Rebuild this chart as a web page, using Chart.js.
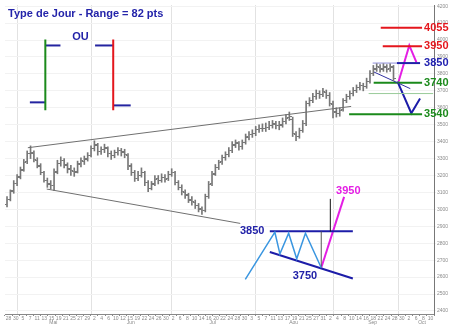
<!DOCTYPE html>
<html>
<head>
<meta charset="utf-8">
<script src="https://cdn.jsdelivr.net/npm/chart.js@4.4.1/dist/chart.umd.min.js"></script>
<style>
  html, body { margin: 0; padding: 0; background: #fff; }
  #wrap { width: 450px; height: 326px; }
</style>
</head>
<body>
<div id="wrap"><canvas id="chart" width="450" height="326"></canvas></div>
<script>
// daily bars, one per trading day (index 0 = end of April)
const opens = [3030,3060,3110,3150,3195,3235,3285,3330,3330,3290,3255,3215,3170,3150,3140,3225,3270,3290,3260,3240,
  3225,3225,3270,3285,3300,3320,3360,3375,3340,3355,3360,3330,3320,3335,3345,3340,3320,3255,3215,3185,
  3200,3215,3160,3125,3150,3180,3170,3190,3180,3205,3215,3160,3130,3100,3080,3055,3040,3020,3000,2995,
  3075,3150,3210,3250,3280,3305,3325,3350,3380,3390,3370,3395,3425,3440,3450,3470,3480,3475,3485,3495,
  3505,3495,3500,3520,3540,3530,3445,3430,3465,3505,3625,3645,3665,3685,3680,3690,3670,3620,3575,3565,
  3590,3645,3665,3685,3700,3720,3730,3725,3755,3800,3830,3840,3830,3840,3830,3840];
const highs = [3075,3115,3170,3205,3250,3295,3345,3375,3345,3305,3270,3225,3185,3170,3240,3290,3310,3300,3275,3260,
  3245,3285,3305,3315,3335,3375,3405,3390,3370,3385,3370,3345,3350,3365,3360,3355,3330,3270,3230,3225,
  3245,3225,3170,3165,3200,3200,3210,3205,3225,3240,3225,3170,3145,3115,3095,3075,3055,3035,3015,3090,
  3165,3225,3265,3290,3320,3340,3365,3400,3410,3400,3410,3445,3460,3470,3490,3500,3505,3510,3520,3525,
  3520,3520,3540,3560,3575,3545,3460,3480,3525,3640,3660,3685,3705,3700,3715,3705,3690,3640,3600,3600,
  3655,3680,3700,3720,3735,3750,3745,3775,3820,3850,3860,3855,3860,3855,3860,3850];
const lows = [3015,3050,3095,3140,3180,3225,3270,3300,3280,3245,3205,3160,3130,3120,3110,3210,3255,3245,3215,3200,
  3195,3215,3250,3265,3285,3310,3345,3320,3325,3335,3310,3295,3305,3320,3315,3305,3235,3200,3165,3170,
  3190,3140,3105,3115,3140,3150,3160,3160,3170,3195,3145,3115,3085,3065,3040,3025,3005,2985,2970,2985,
  3065,3140,3200,3235,3265,3290,3310,3335,3365,3350,3355,3385,3410,3425,3435,3455,3460,3460,3470,3480,
  3475,3470,3485,3505,3525,3430,3405,3420,3455,3495,3610,3630,3650,3655,3665,3655,3610,3540,3545,3550,
  3580,3630,3650,3670,3690,3705,3700,3715,3745,3790,3815,3810,3815,3810,3815,3760];
const closes = [3056,3103,3155,3190,3231,3277,3329,3335,3295,3260,3219,3173,3149,3143,3219,3271,3289,3266,3236,3231,
  3219,3266,3289,3295,3318,3358,3382,3341,3353,3364,3329,3318,3335,3347,3335,3324,3260,3219,3184,3202,
  3219,3161,3126,3149,3178,3173,3190,3178,3207,3219,3161,3132,3103,3085,3056,3045,3021,3004,2992,3074,
  3149,3207,3248,3277,3306,3324,3347,3382,3393,3370,3393,3428,3440,3451,3469,3480,3480,3486,3498,3504,
  3498,3498,3521,3539,3550,3451,3428,3463,3510,3626,3643,3666,3684,3678,3695,3672,3626,3579,3568,3585,
  3643,3666,3684,3701,3719,3730,3724,3754,3800,3829,3841,3829,3841,3829,3841,3770];

// axis labels
const dayLabels = ['28','30','5','7','11','13','15','19','21','25','27','29','2','4','6','10','12','15','19','22',
  '24','26','30','2','6','8','10','14','16','20','22','24','28','30','3','5','7','11','13','17',
  '19','21','25','27','31','2','4','8','10','14','16','18','22','24','28','30','2','6','8','10'];
const monthNames = ['Mai', 'Jun', 'Jul', 'Aou', 'Sep', 'Oct'];
const monthMid = [13.8, 36.8, 61.2, 85.3, 108.8, 123.5];
const monthStart = [3.2, 25, 48.8, 73.8, 97, 116.5];

// trend lines drawn on the price chart
const upperTrend = [[6.2, 3364], [102.4, 3608]];
const lowerTrend = [[11.8, 3120], [69.4, 2917]];
const pennantTop = [[108.8, 3864], [116, 3864]];
const pennantLow = [[109.1, 3812], [120, 3713]];

// target levels on the right
const level4055 = [[111.2, 4073], [123.5, 4073]];
const level3950 = [[111.8, 3963], [123.5, 3963]];
const level3850 = [[116, 3864], [122.9, 3864]];
const level3740 = [[109.1, 3748], [123.5, 3748]];
const level3690 = [[107.6, 3684], [126.8, 3684]];
const level3540 = [[101.8, 3562], [123.5, 3562]];
const upPath = [[116.5, 3754], [119.7, 3968], [121.8, 3870]];
const downPath = [[116.2, 3754], [120.3, 3568], [122.9, 3655]];

// top-left sketch: bullish / bearish day
const greenBar = [[11.4, 4003], [11.4, 3585]];
const greenOpen = [[6.8, 3632], [11.4, 3632]];
const greenClose = [[11.4, 3968], [15.9, 3968]];
const redBar = [[31.6, 4003], [31.6, 3585]];
const redOpen = [[26.2, 3968], [31.6, 3968]];
const redClose = [[31.6, 3614], [36.8, 3614]];

// bottom sketch: triangle breakout
const sketchTop = [[78.2, 2870], [102.9, 2870]];
const sketchLow = [[78.2, 2748], [102.9, 2592]];
const zigzag = [[70.9, 2586], [79.7, 2865], [81.2, 2737], [83.8, 2859], [86.2, 2708], [88.8, 2859], [93.5, 2655]];
const sketchHeight = [[93.5, 2655], [93.5, 2870]];
const sketchTarget = [[96.2, 2870], [96.2, 3062]];
const sketchBreak = [[93.5, 2655], [100.3, 3074]];

const labels = [
  { text: '4055', x: 124.1, y: 4073, color: '#e4161c' },
  { text: '3950', x: 124.1, y: 3963, color: '#e4161c' },
  { text: '3850', x: 124.1, y: 3864, color: '#2222b0' },
  { text: '3740', x: 124.1, y: 3748, color: '#1b8a1b' },
  { text: '3540', x: 124.1, y: 3562, color: '#1b8a1b' },
  { text: 'OU', x: 19.4, y: 4021, color: '#2222a8' },
  { text: '3850', x: 69.3, y: 2870, color: '#2222a8' },
  { text: '3750', x: 85, y: 2609, color: '#2222a8' },
  { text: '3950', x: 97.9, y: 3109, color: '#e41ee4' }
];

function tickImg(side) {
  const c = document.createElement('canvas');
  c.width = 5; c.height = 1;
  const g = c.getContext('2d');
  g.fillStyle = '#777777';
  g.fillRect(side < 0 ? 0 : 3, 0, 2, 1);
  return c;
}

function line(pts, color, width) {
  return {
    type: 'line',
    data: pts.map(p => ({ x: p[0], y: p[1] })),
    borderColor: color,
    borderWidth: width,
    pointRadius: 0,
    tension: 0,
    fill: false,
    xAxisID: 'x',
    yAxisID: 'y'
  };
}

const textPlugin = {
  id: 'texts',
  afterDraw(chart) {
    const ctx = chart.ctx;
    const xs = chart.scales.x, ys = chart.scales.y;
    ctx.save();
    ctx.font = 'bold 11px "Liberation Sans", Arial, sans-serif';
    ctx.textBaseline = 'middle';
    ctx.fillStyle = '#2424aa';
    ctx.textAlign = 'left';
    ctx.fillText('Type de Jour - Range = 82 pts', chart.chartArea.left + 3, chart.chartArea.top + 9);
    labels.forEach(l => {
      ctx.fillStyle = l.color;
      ctx.fillText(l.text, xs.getPixelForValue(l.x), ys.getPixelForValue(l.y));
    });
    ctx.restore();
  }
};

const tiny = { size: 5, family: '"Liberation Sans", Arial, sans-serif' };
const xMin = -0.6, xMax = 127.05;

new Chart(document.getElementById('chart'), {
  type: 'bar',
  data: {
    datasets: [
      line(upperTrend, '#707070', 1),
      line(lowerTrend, '#707070', 1),
      {
        type: 'bar',
        data: closes.map((c, i) => ({ x: i, y: [lows[i], highs[i]] })),
        backgroundColor: '#777777',
        barThickness: 1,
        xAxisID: 'x',
        yAxisID: 'y'
      },
      {
        type: 'line',
        data: opens.map((v, i) => ({ x: i, y: v })),
        showLine: false,
        pointStyle: tickImg(-1),
        xAxisID: 'x',
        yAxisID: 'y'
      },
      {
        type: 'line',
        data: closes.map((v, i) => ({ x: i, y: v })),
        showLine: false,
        pointStyle: tickImg(1),
        xAxisID: 'x',
        yAxisID: 'y'
      },
      line(pennantTop, '#8c8cd8', 1),
      line(pennantLow, '#3030a0', 1),
      line(level4055, '#e4161c', 2),
      line(level3950, '#e4161c', 2),
      line(level3690, '#9acb9a', 1),
      line(level3740, '#1b8a1b', 2),
      line(level3540, '#1b8a1b', 2),
      line(level3850, '#2020a8', 2),
      line(downPath, '#1c1ca8', 2),
      line(upPath, '#e41ee4', 2),
      line(greenBar, '#1b8a1b', 2),
      line(greenOpen, '#2424a0', 2),
      line(greenClose, '#2424a0', 2),
      line(redBar, '#e4161c', 2),
      line(redOpen, '#2424a0', 2),
      line(redClose, '#2424a0', 2),
      line(zigzag, '#3a96e0', 1.5),
      line(sketchHeight, '#555555', 1),
      line(sketchTarget, '#111111', 1),
      line(sketchTop, '#1c1ca8', 2),
      line(sketchLow, '#1c1ca8', 2),
      line(sketchBreak, '#e41ee4', 2)
    ]
  },
  options: {
    responsive: false,
    animation: false,
    events: [],
    layout: { padding: 0 },
    plugins: { legend: { display: false }, tooltip: { enabled: false } },
    scales: {
      x: {
        type: 'linear',
        display: false,
        offset: false,
        min: xMin,
        max: xMax
      },
      xGrid: {
        type: 'linear',
        position: 'bottom',
        weight: 0,
        offset: false,
        min: xMin,
        max: xMax,
        afterBuildTicks: s => { s.ticks = monthStart.map(v => ({ value: v })); },
        afterFit: s => { s.height = 0; },
        ticks: { display: false },
        grid: { color: '#e2e2e2', drawTicks: false, offset: false },
        border: { display: false }
      },
      xDates: {
        type: 'category',
        labels: dayLabels,
        position: 'bottom',
        weight: 1,
        afterFit: s => { s.height = 6; },
        ticks: { font: tiny, color: '#8a8a8a', padding: 0, autoSkip: false, maxRotation: 0 },
        grid: { drawOnChartArea: false, tickLength: 2, color: '#888' },
        border: { color: '#888' }
      },
      xMonths: {
        type: 'linear',
        position: 'bottom',
        weight: 2,
        offset: false,
        min: xMin,
        max: xMax,
        afterBuildTicks: s => { s.ticks = monthMid.map(v => ({ value: v })); },
        afterFit: s => { s.height = 6; },
        ticks: {
          font: tiny, color: '#8a8a8a', padding: 0, autoSkip: false, maxRotation: 0,
          callback: (v, i) => monthNames[i]
        },
        grid: { display: false, drawTicks: false, tickLength: 0, offset: false },
        border: { display: false }
      },
      y: {
        type: 'linear',
        position: 'right',
        min: 2382,
        max: 4207,
        afterFit: s => { s.width = 16; },
        ticks: { stepSize: 100, includeBounds: false, font: tiny, color: '#8a8a8a', padding: 1, callback: v => String(v) },
        grid: { color: '#f2f2f2', tickLength: 2 },
        border: { color: '#777' }
      }
    }
  },
  plugins: [textPlugin]
});
</script>
</body>
</html>
